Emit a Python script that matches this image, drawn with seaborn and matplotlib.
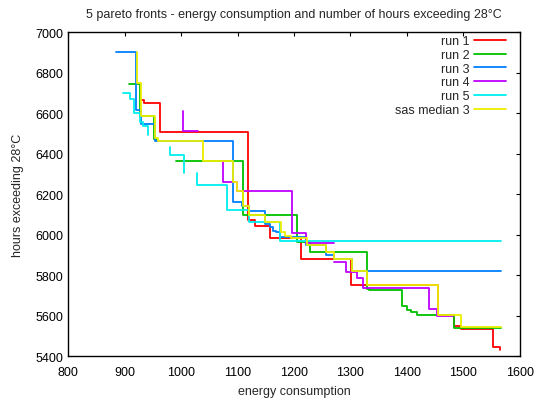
import matplotlib
matplotlib.use("Agg")
import matplotlib.pyplot as plt
from matplotlib.lines import Line2D
import pandas as pd
import seaborn as sns

# step points (energy, hours); each inner list is one visible piece
run1_energy = [[929, 934, 962, 1119, 1131, 1158, 1213, 1301, 1455, 1483, 1496, 1553, 1565]]
run1_hours = [[6662, 6648, 6508, 6073, 6040, 5985, 5879, 5752, 5603, 5547, 5533, 5446, 5430]]

run2_energy = [[908, 928, 952, 958],
               [991, 1109, 1206, 1229, 1329, 1333, 1391, 1400, 1407, 1417, 1483, 1566]]
run2_hours = [[6743, 6584, 6472, 6472],
              [6362, 6098, 5964, 5914, 5733, 5727, 5648, 5627, 5616, 5603, 5537, 5537]]

run3_energy = [[885, 921, 929, 954, 1092, 1108, 1121, 1148, 1158, 1163, 1169, 1175,
                1222, 1257, 1270, 1302, 1566]]
run3_hours = [[6900, 6617, 6546, 6460, 6162, 6142, 6115, 6052, 6036, 6019, 6010, 5990,
               5948, 5899, 5877, 5818, 5818]]

run4_energy = [[1004, 1004, 1030],
               [1074, 1074, 1099, 1197, 1221, 1270],
               [1270, 1292, 1311, 1323, 1439, 1454, 1482]]
run4_hours = [[6608, 6513, 6513],
              [6362, 6258, 6216, 6009, 5957, 5957],
              [5863, 5813, 5785, 5738, 5630, 5596, 5596]]

run5_energy = [[898, 910, 917, 927, 933, 942],
               [981, 981, 1005],
               [1028, 1028, 1081, 1120, 1176, 1566]]
run5_hours = [[6700, 6669, 6600, 6558, 6537, 6491],
              [6431, 6393, 6302],
              [6302, 6244, 6122, 6060, 5969, 5969]]

median_energy = [[922, 922, 929, 954, 959, 1039, 1092, 1099, 1109, 1120, 1149, 1177, 1184,
                  1195, 1223, 1257, 1271, 1303, 1329, 1455, 1496, 1566]]
median_hours = [[6900, 6746, 6584, 6475, 6460, 6362, 6258, 6216, 6142, 6096, 6060, 6010, 5993,
                 5983, 5948, 5912, 5880, 5818, 5752, 5603, 5543, 5543]]

labels = ["run 1", "run 2", "run 3", "run 4", "run 5", "sas median 3"]
colors = ["#ff0000", "#00c000", "#0080ff", "#c000ff", "#00eeee", "#eeee00"]

series = [
    (labels[0], run1_energy, run1_hours),
    (labels[1], run2_energy, run2_hours),
    (labels[2], run3_energy, run3_hours),
    (labels[3], run4_energy, run4_hours),
    (labels[4], run5_energy, run5_hours),
    (labels[5], median_energy, median_hours),
]

rows = []
for name, xs_list, ys_list in series:
    for k, (xs, ys) in enumerate(zip(xs_list, ys_list)):
        for x, y in zip(xs, ys):
            rows.append({"run": name, "piece": f"{name}-{k}", "energy": x, "hours": y})
df = pd.DataFrame(rows)

sns.set_style("white")
plt.rcParams["font.family"] = ["Liberation Sans", "DejaVu Sans"]
plt.rcParams["font.size"] = 9

fig, ax = plt.subplots(figsize=(5.36, 4.02), dpi=100)
fig.subplots_adjust(left=0.1269, right=0.9701, top=0.9179, bottom=0.1119)

sns.lineplot(data=df, x="energy", y="hours", hue="run", hue_order=labels,
             palette=dict(zip(labels, colors)), units="piece", estimator=None,
             sort=False, drawstyle="steps-post", linewidth=1.3, legend=False, ax=ax)

ax.set_xlim(800, 1600)
ax.set_ylim(5400, 7000)
ax.set_xticks(range(800, 1601, 100))
ax.set_yticks(range(5400, 7001, 200))
ax.tick_params(direction="in", top=True, right=True, length=3, width=0.8,
               colors="black", labelsize=9)
ax.tick_params(axis="x", pad=7)
ax.tick_params(axis="y", pad=3.5)
for sp in ax.spines.values():
    sp.set_visible(True)
    sp.set_color("black")
    sp.set_linewidth(1.0)

ax.set_xlabel("energy consumption", fontsize=9, labelpad=5.5)
ax.set_ylabel("hours exceeding 28°C", fontsize=9, labelpad=8)
ax.set_title("5 pareto fronts - energy consumption and number of hours exceeding 28°C",
             fontsize=9, pad=11)

handles = [Line2D([], [], color=c, linewidth=1.3) for c in colors]
leg = ax.legend(handles, labels, loc="upper right", bbox_to_anchor=(0.969, 0.99),
                frameon=False, markerfirst=False, fontsize=9, handlelength=2.56,
                handletextpad=0.32, labelspacing=0.14, borderpad=0, borderaxespad=0)

# right-align the legend rows like gnuplot does
for col in leg._legend_handle_box.get_children():
    col.align = "right"

fig.savefig("out.png", dpi=100)
